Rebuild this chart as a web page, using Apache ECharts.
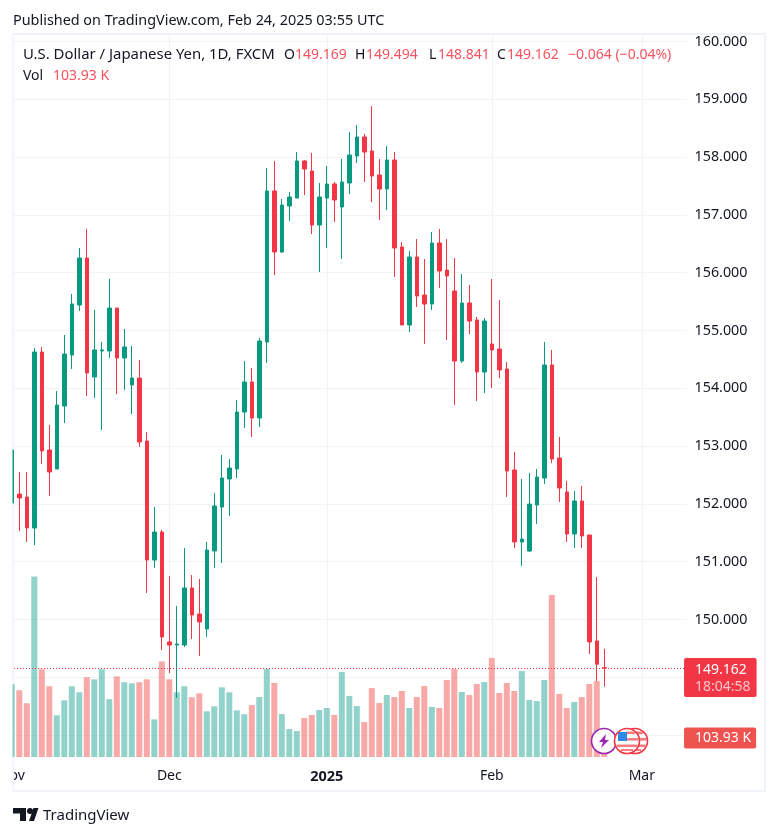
<!DOCTYPE html>
<html><head><meta charset="utf-8">
<style>html,body{margin:0;padding:0;background:#fff}#c{width:778px;height:836px}</style>
<script src="https://cdn.jsdelivr.net/npm/echarts@6/dist/echarts.min.js"></script>
</head><body><div id="c"></div>
<script>
const opens=[152.016,152.171,152.119,151.583,154.628,152.933,152.604,153.694,154.576,155.441,156.254,154.196,154.645,154.645,155.389,154.524,154.057,154.178,153.088,151.029,151.514,149.611,149.559,149.559,150.545,150.095,149.836,151.185,151.946,152.431,152.604,153.590,154.109,153.486,154.801,157.414,156.358,157.154,157.292,157.933,157.760,156.825,157.292,157.535,157.137,157.552,158.019,158.348,158.106,157.690,157.448,157.950,156.445,155.095,156.272,155.614,155.458,156.514,156.047,155.683,154.472,155.476,155.182,154.282,154.766,154.680,154.334,152.587,151.341,151.185,151.981,152.448,154.403,152.794,152.206,151.479,152.050,151.462,149.628,149.169];
const closes=[152.933,152.102,151.583,154.628,152.915,152.552,153.711,154.593,155.458,156.254,154.265,154.663,154.663,155.389,154.524,154.715,154.178,153.071,151.029,151.514,149.697,149.559,149.576,150.545,150.078,149.957,151.202,151.964,152.448,152.621,153.590,154.109,153.486,154.818,157.414,156.358,157.171,157.310,157.933,157.794,156.825,157.310,157.535,157.258,157.569,158.036,158.348,158.088,157.673,157.448,157.950,156.427,155.095,156.272,155.597,155.458,156.514,156.029,155.943,154.472,155.476,155.164,154.282,155.164,154.663,154.317,152.569,151.341,151.393,151.998,152.465,154.403,152.777,152.275,151.479,152.050,151.445,149.611,149.226,149.162];
const highs=[152.933,152.552,152.552,154.697,154.715,153.365,153.953,154.922,155.632,156.427,156.756,155.355,154.801,155.891,155.389,155.026,154.732,154.490,153.244,151.946,151.548,150.753,150.234,151.237,150.770,150.701,151.341,152.189,152.846,152.777,153.798,154.472,154.351,154.870,157.811,157.933,157.275,157.396,158.088,157.950,158.071,157.552,157.846,157.569,157.967,158.434,158.555,158.400,158.884,157.967,158.192,158.088,156.531,156.375,156.583,156.237,156.704,156.756,156.583,156.254,155.978,155.787,155.234,155.216,155.891,155.528,154.455,152.898,152.431,152.535,152.604,154.801,154.663,153.157,152.396,152.223,152.310,151.462,150.735,149.494];
const lows=[152.016,151.531,151.341,151.289,152.690,152.137,152.604,153.400,154.334,155.337,153.867,153.832,153.279,154.524,153.901,153.971,153.555,152.984,150.459,150.891,149.472,149.074,148.642,149.524,149.663,149.369,149.697,150.891,150.978,151.791,152.448,153.313,153.157,153.330,154.438,155.960,156.341,156.894,157.292,157.344,156.670,156.012,156.427,156.877,156.237,157.362,157.898,157.569,157.223,156.912,157.085,155.926,155.095,154.974,155.407,154.766,155.355,155.735,154.836,153.711,154.438,154.939,153.780,153.919,154.005,154.178,152.119,151.237,150.926,151.168,151.652,152.344,152.708,152.033,151.341,151.237,151.237,149.403,148.936,148.841];
const volumes=[398,365,294,988,480,387,228,310,387,354,436,425,480,316,441,409,403,409,425,206,523,425,354,387,327,348,250,277,381,354,255,234,284,328,481,405,235,153,142,213,230,257,268,230,465,334,279,191,377,295,339,328,361,268,328,388,274,268,421,481,356,339,399,410,542,350,405,361,470,312,306,421,886,345,268,301,328,399,416,103.93];
const timeTickIndex=[0,21,42,64,84];
const timeTickLabels=['Nov','Dec','2025','Feb','Mar'];
const priceLabels=[150,151,152,153,154,155,156,157,158,159,160];
const priceGrid=[148,149,150,151,152,153,154,155,156,157,158,159,160];
const lastPrice=149.162, lastVol=103.93, countdown='18:04:58';
const slotCount=91;

const FONT='"Noto Sans", sans-serif', INK='#131722';
const UP='#089981', DOWN='#f23645', GRID='#f2f3f5', LEG='#f7525f';
const categories=Array.from({length:slotCount},(_,i)=>String(i));
const candles=opens.map((o,i)=>[o,closes[i],lows[i],highs[i]]);
const volData=volumes.map((v,i)=>({value:v,itemStyle:{color:closes[i]>=opens[i]?'rgba(36,166,150,0.5)':'rgba(242,83,80,0.5)'}}));
const chart=echarts.init(document.getElementById('c'),null,{renderer:'canvas'});
const isTick=i=>timeTickIndex.includes(+i);
const flag=(cx,z)=>({type:'group',x:cx,y:741,z:z,silent:true,children:[
 {type:'circle',z:z,shape:{r:12.5},style:{fill:'#fff',stroke:DOWN,lineWidth:1.6}},
 {type:'rect',z:z,shape:{x:-1,y:-9.5,width:9,height:2.6},style:{fill:'#f77c80'}},
 {type:'rect',z:z,shape:{x:-1,y:-3,width:12.5,height:2.6},style:{fill:'#f77c80'}},
 {type:'rect',z:z,shape:{x:-10.5,y:3.5,width:21,height:2.6},style:{fill:'#f77c80'}},
 {type:'rect',z:z,shape:{x:-6,y:8,width:12,height:2},style:{fill:'#f77c80'}},
 {type:'rect',z:z,shape:{x:-9,y:-9,width:9,height:9},style:{fill:'#2f8ae5'}}
]});
const t=(x,y,s,fill,size)=>({type:'text',z:12,x:x,y:y,silent:true,style:{text:s,fill:fill,font:size+'px '+FONT,textVerticalAlign:'middle'}});
chart.setOption({
 animation:false,backgroundColor:'#fff',
 textStyle:{fontFamily:FONT},
 grid:{left:8.05,width:682.5,top:34,height:723,containLabel:false,outerBoundsMode:'none'},
 xAxis:{type:'category',data:categories,boundaryGap:true,
  axisLine:{show:false},axisTick:{show:false},
  axisLabel:{interval:(i)=>isTick(i),margin:12,fontFamily:FONT,fontSize:14,color:INK,hideOverlap:false,
    formatter:(v)=>{const k=timeTickIndex.indexOf(+v);if(k<0)return '';const s=timeTickLabels[k];return s==='2025'?'{b|'+s+'}':s;},
    rich:{b:{fontWeight:'bold',fontSize:14.5,color:INK,fontFamily:FONT}}},
  splitLine:{show:true,alignWithLabel:true,interval:(i)=>isTick(i),lineStyle:{color:GRID,width:1}}},
 yAxis:[
  {type:'value',position:'right',min:147.621,max:160.13,
   axisLine:{show:false},
   axisTick:{show:false,customValues:priceGrid},
   axisLabel:{customValues:priceLabels,margin:4,fontFamily:FONT,fontSize:14.3,color:INK,padding:[2,0,0,0],formatter:v=>v.toFixed(3)},
   splitLine:{show:true,lineStyle:{color:GRID,width:1}}},
  {type:'value',min:0,max:3955,show:false,splitLine:{show:false}}
 ],
 series:[
  {type:'bar',name:'Vol',xAxisIndex:0,yAxisIndex:1,data:volData,barWidth:6,z:2,silent:true,
   markLine:{silent:true,symbol:'none',animation:false,z:6,lineStyle:{color:'rgba(0,0,0,0)'},
    label:{show:true,position:'end',distance:-6.5,formatter:()=>lastVol.toFixed(2)+' K',
      backgroundColor:'#ef5350',borderRadius:2,color:'#fff',fontFamily:FONT,fontSize:14,
      padding:[4,5,3,11]},
    data:[{yAxis:lastVol}]}},
  {type:'candlestick',name:'USDJPY',xAxisIndex:0,yAxisIndex:0,data:candles,barWidth:4,z:3,silent:true,
   itemStyle:{color:UP,color0:DOWN,borderColor:UP,borderColor0:DOWN,borderWidth:1},
   markLine:{silent:true,symbol:'none',animation:false,z:5,
    lineStyle:{color:DOWN,type:[1,2],width:1},
    label:{show:true,position:'end',distance:-6.5,offset:[0,9.5],
      formatter:()=>'{p|'+lastPrice.toFixed(3)+'}\n{t|'+countdown+'}',
      backgroundColor:DOWN,borderRadius:2,padding:[3,6,2,11],
      rich:{p:{color:'#fff',fontSize:14,fontFamily:FONT,lineHeight:17},t:{color:'#fbc4c8',fontSize:14,fontFamily:FONT,lineHeight:17}}},
    data:[{yAxis:lastPrice}]}}
 ],
 graphic:[
  {type:'rect',z:10,silent:true,shape:{x:0,y:33,width:12.5,height:760},style:{fill:'#fff'}},
  {type:'rect',z:1,silent:true,shape:{x:687,y:33,width:5,height:724},style:{fill:'#fff'}},
  {type:'rect',z:1,silent:true,shape:{x:13,y:34,width:752,height:757},style:{fill:'none',stroke:'#f0f3fa',lineWidth:2}},
  t(13,21,'Published on TradingView.com, Feb 24, 2025 03:55 UTC',INK,14.4),
  t(23,55,'U.S. Dollar / Japanese Yen, 1D, FXCM',INK,14.9),
  t(284,55,'O',INK,14),t(295,55,'149.169',LEG,14),
  t(355,55,'H',INK,14),t(366,55,'149.494',LEG,14),
  t(429,55,'L',INK,14),t(438,55,'148.841',LEG,14),
  t(497,55,'C',INK,14),t(507,55,'149.162',LEG,14),
  t(568,55,'−0.064 (−0.04%)',LEG,14),
  t(23,76,'Vol',INK,14),t(53,76,'103.93 K',LEG,14),
  {type:'group',x:604,y:741,z:13,silent:true,children:[
    {type:'circle',z:13,shape:{r:12.5},style:{fill:'#fff',stroke:'#9c27b0',lineWidth:1.6}},
    {type:'polygon',z:13,shape:{points:[[2,-7],[-5,1],[-1,1],[-3,7],[5,-1],[1,-1]]},style:{fill:'#9c27b0'}}
  ]},
  flag(635,13),flag(627,14),
  {type:'polygon',z:12,silent:true,x:13,y:808,shape:{points:[[0,0],[13,0],[13,13],[7,13],[7,5.5],[0,5.5]]},style:{fill:INK}},
  {type:'circle',z:12,silent:true,x:13,y:808,shape:{cx:17,cy:3,r:3},style:{fill:INK}},
  {type:'polygon',z:12,silent:true,x:13,y:808,shape:{points:[[16,13],[20.5,0],[25.5,0],[21,13]]},style:{fill:INK}},
  t(43,816,'TradingView',INK,15)
 ]
});
</script></body></html>
